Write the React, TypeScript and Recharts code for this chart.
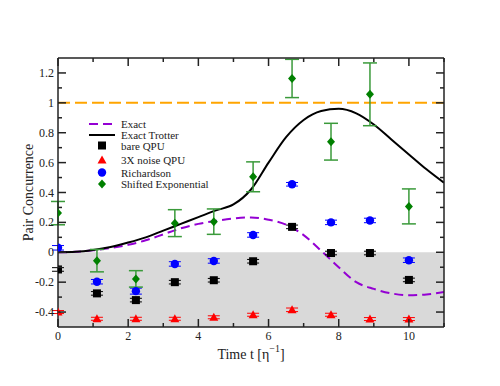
import React from 'react';
import {
  ComposedChart, Line, Scatter, XAxis, YAxis, ReferenceArea, ReferenceLine, ErrorBar,
} from 'recharts';

// ---- data ----
const curveT = [0, 0.5, 1, 1.5, 2, 2.5, 3, 3.5, 4, 4.5, 5, 5.5, 6, 6.5, 7, 7.5, 8, 8.5, 9, 9.5, 10, 10.5, 11];
const exactVals = [0, 0.003, 0.013, 0.028, 0.05, 0.08, 0.12, 0.16, 0.19, 0.21, 0.226, 0.233, 0.218, 0.185, 0.115, 0.01, -0.1, -0.2, -0.245, -0.275, -0.287, -0.282, -0.265];
const trotterVals = [0, 0.003, 0.015, 0.035, 0.065, 0.1, 0.145, 0.19, 0.235, 0.28, 0.32, 0.42, 0.6, 0.77, 0.885, 0.945, 0.96, 0.93, 0.855, 0.755, 0.655, 0.555, 0.465];

const pointT = [0, 1.11, 2.22, 3.33, 4.44, 5.56, 6.67, 7.78, 8.89, 10];
const bareQPU = [-0.115, -0.275, -0.32, -0.2, -0.187, -0.06, 0.17, -0.005, -0.005, -0.185];
const bareErr = [0.012, 0.012, 0.012, 0.012, 0.012, 0.012, 0.012, 0.012, 0.012, 0.012];
const noiseQPU = [-0.4, -0.445, -0.445, -0.445, -0.435, -0.418, -0.385, -0.418, -0.447, -0.447];
const noiseErr = [0.01, 0.01, 0.01, 0.01, 0.01, 0.01, 0.012, 0.01, 0.01, 0.01];
const richardson = [0.03, -0.197, -0.26, -0.078, -0.058, 0.116, 0.455, 0.2, 0.213, -0.053];
const richErr = [0.015, 0.015, 0.02, 0.015, 0.015, 0.015, 0.012, 0.015, 0.015, 0.015];
const shifted = [0.262, -0.056, -0.178, 0.195, 0.205, 0.505, 1.163, 0.74, 1.057, 0.307];
const shiftedErr = [0.078, 0.075, 0.055, 0.09, 0.085, 0.1, 0.128, 0.123, 0.21, 0.117];

const xTicks = [0, 1, 2, 3, 4, 5, 6, 7, 8, 9, 10, 11];
const yTicks = [-0.4, -0.3, -0.2, -0.1, 0, 0.1, 0.2, 0.3, 0.4, 0.5, 0.6, 0.7, 0.8, 0.9, 1, 1.1, 1.2];

const legendItems = ['Exact', 'Exact Trotter', 'bare QPU', '3X noise QPU', 'Richardson', 'Shifted Exponential'];

// ---- build tables ----
const exactData = curveT.map((t, i) => ({ t, y: exactVals[i] }));
const trotterData = curveT.map((t, i) => ({ t, y: trotterVals[i] }));
const mk = (vals: number[], errs: number[]) => pointT.map((t, i) => ({ t, y: vals[i], e: errs[i] }));
const bareData = mk(bareQPU, bareErr);
const noiseData = mk(noiseQPU, noiseErr);
const richData = mk(richardson, richErr);
const shiftData = mk(shifted, shiftedErr);

const FONT = "'Liberation Serif', 'DejaVu Serif', serif";
const TS: React.CSSProperties = { fontFamily: FONT };
const AX = '#222';

const isMajorX = (v: number) => Math.round(v) % 2 === 0;
const isMajorY = (v: number) => Math.round(v * 10) % 2 === 0;

const BottomTick = (p: any) => {
  const { x, y, payload } = p;
  const v = payload.value;
  const maj = isMajorX(v);
  return (
    <g>
      <line x1={x} x2={x} y1={y} y2={y - (maj ? 8 : 4)} stroke={AX} strokeWidth={1.5} />
      {maj && (
        <text x={x} y={y + 13} textAnchor="middle" fontSize={12} style={TS} fill="#222">{v}</text>
      )}
    </g>
  );
};
const TopTick = (p: any) => {
  const { x, y, payload } = p;
  const maj = isMajorX(payload.value);
  return <line x1={x} x2={x} y1={y} y2={y + (maj ? 8 : 4)} stroke={AX} strokeWidth={1.5} />;
};
const LeftTick = (p: any) => {
  const { x, y, payload } = p;
  const v = payload.value;
  const maj = isMajorY(v);
  return (
    <g>
      <line x1={x} x2={x + (maj ? 8 : 4)} y1={y} y2={y} stroke={AX} strokeWidth={1.5} />
      {maj && (
        <text x={x - 4} y={y + 4} textAnchor="end" fontSize={12} style={TS} fill="#222">{String(v)}</text>
      )}
    </g>
  );
};
const RightTick = (p: any) => {
  const { x, y, payload } = p;
  const maj = isMajorY(payload.value);
  return <line x1={x} x2={x - (maj ? 8 : 4)} y1={y} y2={y} stroke={AX} strokeWidth={1.5} />;
};

const Square = (p: any) => <rect x={p.cx - 4} y={p.cy - 4} width={8} height={8} fill="#000" />;
const Tri = (p: any) => (
  <polygon points={`${p.cx},${p.cy - 4.5} ${p.cx - 4.5},${p.cy + 3.5} ${p.cx + 4.5},${p.cy + 3.5}`} fill="#ff0000" />
);
const Circ = (p: any) => <circle cx={p.cx} cy={p.cy} r={4.2} fill="#0000ff" />;
const Diam = (p: any) => (
  <polygon points={`${p.cx},${p.cy - 4.5} ${p.cx + 4},${p.cy} ${p.cx},${p.cy + 4.5} ${p.cx - 4},${p.cy}`} fill="#008000" />
);

const XLabel = (p: any) => {
  const vb = p.viewBox || {};
  const cx = vb.x + vb.width / 2;
  const y = vb.y + 32;
  return (
    <text x={cx} y={y} textAnchor="middle" fontSize={14} style={TS} fill="#222">
      Time t [η<tspan fontSize={10} dy={-7}>−1</tspan><tspan dy={7}>]</tspan>
    </text>
  );
};
const YLabel = (p: any) => {
  const vb = p.viewBox || {};
  const cy = vb.y + vb.height / 2;
  const cx = 28;
  return (
    <text x={cx} y={cy} textAnchor="middle" dominantBaseline="central" fontSize={14} style={TS}
      fill="#222" transform={`rotate(-90, ${cx}, ${cy})`}>
      Pair Concurrence
    </text>
  );
};

const legendRows = [124, 135, 145.5, 160, 172.5, 184];

const LegendOverlay = () => (
  <svg width={500} height={386} style={{ position: 'absolute', left: 0, top: 0, pointerEvents: 'none' }}>
    {legendItems.map((name, i) => {
      const y = legendRows[i];
      let sym: React.ReactNode = null;
      if (i === 0) sym = <line x1={89} x2={115} y1={y} y2={y} stroke="#9400d3" strokeWidth={2} strokeDasharray="9 5" />;
      else if (i === 1) sym = <line x1={89} x2={115} y1={y} y2={y} stroke="#000" strokeWidth={2} />;
      else if (i === 2) sym = <Square cx={102} cy={y} />;
      else if (i === 3) sym = <Tri cx={102} cy={y} />;
      else if (i === 4) sym = <Circ cx={102} cy={y} />;
      else sym = <Diam cx={102} cy={y} />;
      return (
        <g key={name}>
          {sym}
          <text x={121} y={y + 4} fontSize={11} style={TS} fill="#222">{name}</text>
        </g>
      );
    })}
  </svg>
);

export default function App() {
  return (
    <div style={{ position: 'absolute', left: 0, top: 0, width: 500, height: 386, background: '#fff', fontFamily: FONT }}>
      <ComposedChart width={500} height={386} margin={{ top: 0, right: 0, bottom: 0, left: 0 }}>
        <XAxis xAxisId={0} dataKey="t" type="number" domain={[0, 11]} ticks={xTicks} interval={0}
          orientation="bottom" height={59} tickSize={0} tickMargin={0} tickLine={false}
          axisLine={{ stroke: AX, strokeWidth: 1.5 }} tick={<BottomTick />} allowDataOverflow
          label={{ content: XLabel } as any} />
        <XAxis xAxisId="top" dataKey="t" type="number" domain={[0, 11]} ticks={xTicks} interval={0}
          orientation="top" height={58} tickSize={0} tickMargin={0} tickLine={false}
          axisLine={{ stroke: AX, strokeWidth: 1.5 }} tick={<TopTick />} allowDataOverflow />
        <YAxis yAxisId={0} dataKey="y" type="number" domain={[-0.5, 1.3]} ticks={yTicks} interval={0}
          orientation="left" width={58} tickSize={0} tickMargin={0} tickLine={false}
          axisLine={{ stroke: AX, strokeWidth: 1.5 }} tick={<LeftTick />} allowDataOverflow
          label={{ content: YLabel } as any} />
        <YAxis yAxisId="right" dataKey="y" type="number" domain={[-0.5, 1.3]} ticks={yTicks} interval={0}
          orientation="right" width={56} tickSize={0} tickMargin={0} tickLine={false}
          axisLine={{ stroke: AX, strokeWidth: 1.5 }} tick={<RightTick />} allowDataOverflow />

        <ReferenceArea xAxisId={0} yAxisId={0} x1={0} x2={11} y1={-0.5} y2={0} fill="#d9d9d9" fillOpacity={1} stroke="none" />
        <ReferenceLine xAxisId={0} yAxisId={0} y={1} stroke="#ffa500" strokeWidth={2} strokeDasharray="12 5" />

        <Line xAxisId={0} yAxisId={0} data={exactData} dataKey="y" type="monotone" stroke="#9400d3" strokeWidth={2}
          strokeDasharray="9 5" dot={false} isAnimationActive={false} />
        <Line xAxisId={0} yAxisId={0} data={trotterData} dataKey="y" type="monotone" stroke="#000" strokeWidth={2}
          dot={false} isAnimationActive={false} />

        <Scatter xAxisId={0} yAxisId={0} data={bareData} dataKey="y" shape={Square} isAnimationActive={false}>
          <ErrorBar dataKey="e" direction="y" width={6} stroke="#000" strokeWidth={1} />
        </Scatter>
        <Scatter xAxisId={0} yAxisId={0} data={noiseData} dataKey="y" shape={Tri} isAnimationActive={false}>
          <ErrorBar dataKey="e" direction="y" width={6} stroke="#ff0000" strokeWidth={1} />
        </Scatter>
        <Scatter xAxisId={0} yAxisId={0} data={richData} dataKey="y" shape={Circ} isAnimationActive={false}>
          <ErrorBar dataKey="e" direction="y" width={6} stroke="#0000ff" strokeWidth={1} />
        </Scatter>
        <Scatter xAxisId={0} yAxisId={0} data={shiftData} dataKey="y" shape={Diam} isAnimationActive={false}>
          <ErrorBar dataKey="e" direction="y" width={7} stroke="#3a9a3a" strokeWidth={1.5} />
        </Scatter>
      </ComposedChart>
      <LegendOverlay />
    </div>
  );
}
